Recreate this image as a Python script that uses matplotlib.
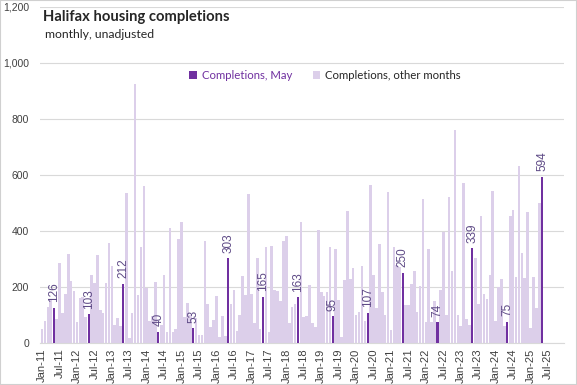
import numpy as np
import pandas as pd
import matplotlib
matplotlib.use("Agg")
import matplotlib.pyplot as plt
from matplotlib.patches import Rectangle

# monthly completions, Jan-11 .. May-25
completions = [
    50, 79, 127, 154, 126, 87, 287, 107, 175, 318, 223, 187,      # 2011
    76, 160, 164, 94, 103, 243, 214, 314, 118, 107, 214, 358,     # 2012
    275, 64, 90, 61, 212, 536, 19, 106, 926, 171, 344, 561,       # 2013
    196, 80, 96, 219, 40, 63, 242, 39, 411, 40, 49, 371,          # 2014
    432, 94, 142, 100, 53, 89, 29, 29, 364, 139, 58, 82,          # 2015
    168, 20, 98, 25, 303, 139, 189, 43, 100, 239, 171, 532,       # 2016
    174, 70, 302, 50, 165, 343, 38, 346, 189, 185, 150, 364,      # 2017
    382, 70, 127, 139, 163, 432, 94, 98, 207, 70, 58, 404,        # 2018
    182, 168, 182, 343, 95, 336, 154, 20, 225, 471, 230, 268,     # 2019
    100, 111, 275, 80, 107, 564, 243, 124, 353, 182, 100, 539,    # 2020
    46, 344, 280, 270, 250, 136, 136, 212, 257, 112, 204, 514,    # 2021
    76, 335, 76, 150, 74, 189, 396, 100, 522, 258, 760, 100,      # 2022
    60, 572, 84, 64, 339, 303, 139, 455, 175, 157, 243, 544,      # 2023
    79, 200, 228, 60, 75, 455, 475, 235, 632, 322, 233, 469,      # 2024
    55, 234, 125, 501, 594,                                       # 2025
]

months = pd.date_range("2011-01-01", "2025-12-01", freq="MS")
tick_months = [m for m in months if m.month in (1, 7)]
tick_labels = [m.strftime("%b-%y") for m in tick_months]

may_color = "#7030A0"
other_color = "#DCCFEA"
text_color = "#404040"

plt.rcParams["font.family"] = ["Liberation Sans", "DejaVu Sans"]

fig = plt.figure(figsize=(5.77, 3.85), dpi=100)
ax = fig.add_axes([40 / 577, 42 / 385, 524 / 577, 336 / 385])

x = np.arange(len(completions))
vals = np.array(completions)
is_may = np.array([months[i].month == 5 for i in x])

ax.bar(x[~is_may], vals[~is_may], width=0.9, color=other_color, zorder=2,
       label="Completions, other months")
ax.bar(x[is_may], vals[is_may], width=0.7, color=may_color, zorder=3,
       label="Completions, May")

# data labels on the May bars
for xi, v in zip(x[is_may], vals[is_may]):
    ax.annotate(str(v), (xi, v), xytext=(0, 4), textcoords="offset points",
                rotation=90, ha="center", va="bottom", fontsize=8.5,
                color="#5E4A86", zorder=4)

ax.set_xlim(-0.7, len(months) - 0.5)
ax.set_ylim(0, 1200)
ax.set_yticks(range(0, 1201, 200))
ax.set_yticklabels([f"{v:,}" for v in range(0, 1201, 200)], fontsize=7.5,
                   color=text_color)
ax.set_xticks([months.get_loc(m) for m in tick_months])
ax.set_xticklabels(tick_labels, rotation=90, fontsize=8, color=text_color)
ax.tick_params(axis="both", length=0, pad=4)
ax.tick_params(axis="y", pad=8)
ax.grid(axis="y", color="#D9D9D9", linewidth=0.8, zorder=0)
for s in ["top", "right", "left"]:
    ax.spines[s].set_visible(False)
ax.spines["bottom"].set_color("#D9D9D9")

fig.text(43 / 577, 1 - 17 / 385, "Halifax housing completions", fontsize=10.6,
         fontweight="bold", family="Lato", color="#262626", va="center", ha="left")
fig.text(45 / 577, 1 - 34 / 385, "monthly, unadjusted", fontsize=8.8,
         family="Lato", color="#262626", va="center", ha="left")

h, l = ax.get_legend_handles_labels()
leg = ax.legend(h[::-1], l[::-1], ncol=2, frameon=False,
                prop={"family": "Lato", "size": 8.2},
                loc="center left", bbox_to_anchor=(0.265, 0.795),
                handlelength=0.7, handleheight=0.7, handletextpad=0.4,
                columnspacing=1.8)
leg.get_texts()[0].set_color(may_color)
leg.get_texts()[1].set_color("#262626")

fig.patches.append(Rectangle((0, 0), 1, 1, transform=fig.transFigure,
                             fill=False, edgecolor="#D0D0D0", linewidth=1.5))

fig.savefig("out.png", dpi=100)
